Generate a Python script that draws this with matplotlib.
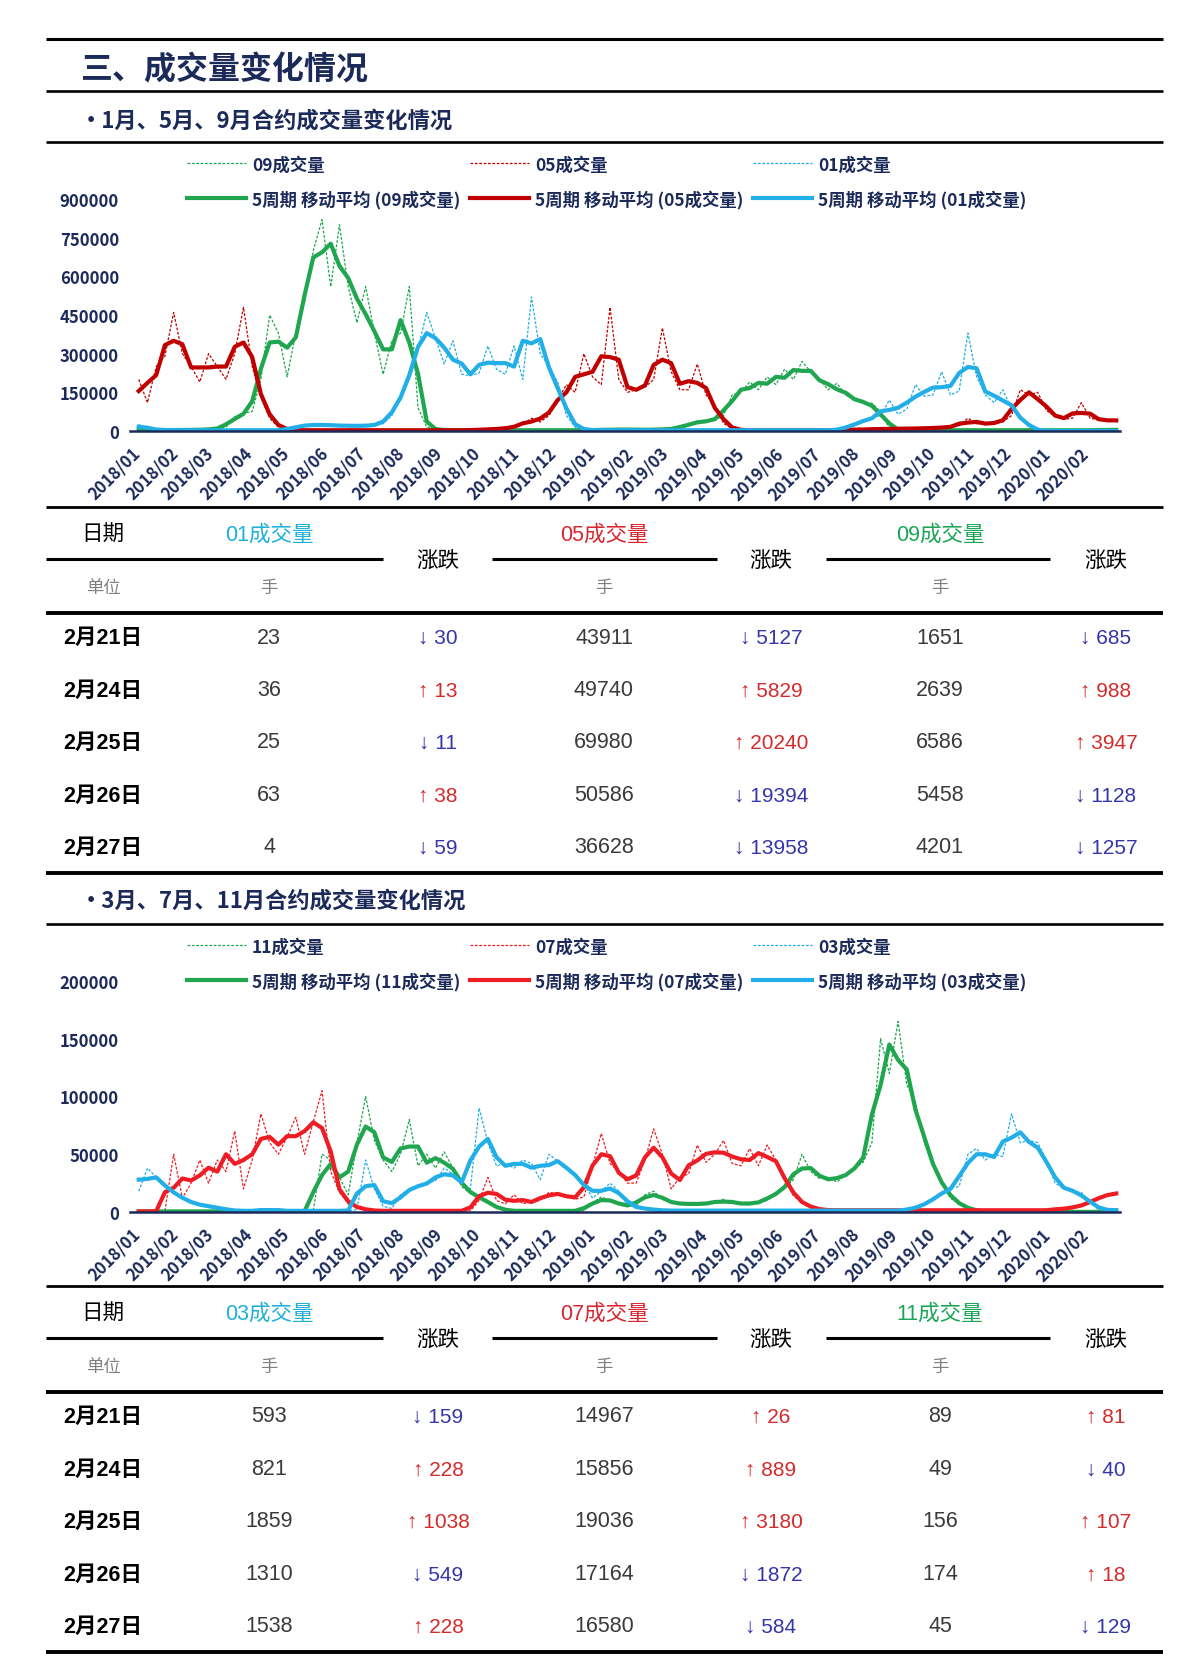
import numpy as np
import pandas as pd
import matplotlib
matplotlib.use("Agg")
import matplotlib.pyplot as plt
import matplotlib.dates as mdates
from matplotlib.lines import Line2D
from matplotlib.ticker import StrMethodFormatter

plt.rcParams['font.family'] = ['Noto Sans CJK SC', 'DejaVu Sans']
plt.rcParams['axes.unicode_minus'] = False

# weekly samples of daily volume, in thousand lots, from 2018/01/02
dates = pd.date_range("2018-01-02", periods=113, freq="7D")

vol09 = [3, 3, 3, 3, 4, 4, 4, 5, 6,
         8, 15, 55, 70, 75, 200, 450, 380, 210, 380, 500, 700, 820, 560, 800, 560,
         420, 560, 380, 220, 350, 380, 560, 90, 15, 5] + [3] * 17 + \
        [4, 4, 5, 6, 6, 5, 5, 5, 6,
         8, 10, 28, 35, 38, 40, 60, 140, 150, 190, 160, 210, 180, 240, 200, 270,
         230, 200, 160, 185, 140, 120, 110, 108, 75, 10] + [3] * 24 + [5, 4]

vol05 = [200, 110, 250, 290, 460, 300, 250, 190, 300, 250, 200, 300, 480, 250, 130, 50, 15, 5] + \
        [3] * 21 + \
        [5, 6, 8, 10, 14, 25, 50, 35, 60, 120, 180, 150, 300, 210, 180, 480, 200, 150, 160, 170,
         200, 400, 230, 160, 160, 260, 140, 100, 30, 8] + [3] * 12 + \
        [5, 5, 6, 7, 8, 8, 9, 9, 10, 10, 12, 13, 15, 20, 50, 28, 28, 30, 35, 60,
         160, 140, 150, 80, 55, 45, 50, 110, 50, 42, 45, 37]

vol01 = [25, 8, 5, 4] + [3] * 14 + \
        [18, 22, 23, 25, 22, 21, 20, 20, 20, 22, 28, 60, 130, 200, 320, 460, 360, 260, 350, 220,
         215, 225, 330, 240, 220, 330, 200, 520, 300, 250, 190, 60, 15, 5] + [3] * 29 + \
        [10, 28, 38, 50, 60, 120, 65, 85, 180, 135, 140, 230, 140, 155, 380, 210, 140, 110, 160, 85,
         55, 15] + [1, 0.5] + [0.1] * 8

vol11 = [0.5] * 20 + \
        [1, 50, 45, 30, 15, 60, 100, 62, 45, 35, 50, 80, 40, 50, 38, 52, 38, 22, 16, 14, 8, 4] + \
        [1] * 10 + \
        [8, 13, 10, 7, 5, 5, 15, 18, 11, 8, 7, 7, 7, 7, 8, 11, 8, 7, 7, 8,
         10, 17, 20, 28, 50, 35, 29, 30, 26, 32, 38, 43, 60, 150, 120, 165, 110, 95, 60, 40,
         25, 12, 7, 4] + [0.1] * 17

vol07 = [0.5, 0.5, 0.5, 1, 50, 12, 25, 45, 25, 45, 35, 70, 20, 45, 85, 60, 50, 65, 82, 50,
         78, 105, 35, 17, 7, 4, 2] + [1] * 12 + \
        [10, 30, 10, 7, 15, 7, 9, 10, 17, 16, 14, 11, 13, 40, 68, 42, 35, 25, 25, 45,
         72, 50, 20, 30, 33, 58, 43, 50, 62, 42, 40, 55, 40, 58, 45, 29, 14, 8, 4, 2] + \
        [1.5] * 27 + [4, 3, 5, 9, 12, 15, 17]

vol03 = [18, 38, 30, 22, 17, 12, 8, 6, 5, 4, 2] + \
        [1, 1, 1, 1, 3, 1, 1, 1, 1, 1, 1, 1, 1, 1] + \
        [2, 45, 20, 5, 3, 15, 20, 22, 25, 27, 38, 33, 24, 20, 90, 60, 40, 42, 38, 45,
         42, 28, 50, 44, 38, 33, 25, 12, 18, 25, 18, 6, 4, 3, 2] + [1.2] * 29 + \
        [4, 6, 10, 17, 21, 22, 50, 55, 45, 50, 48, 85, 60, 62, 60, 45, 25, 20, 18, 17,
         8, 2, 1.8, 1.5]

MA_WIN = 3

# tables
tbl_dates = ['2月21日', '2月24日', '2月25日', '2月26日', '2月27日']
t1_vol01 = [23, 36, 25, 63, 4]
t1_chg01 = [-30, 13, -11, 38, -59]
t1_vol05 = [43911, 49740, 69980, 50586, 36628]
t1_chg05 = [-5127, 5829, 20240, -19394, -13958]
t1_vol09 = [1651, 2639, 6586, 5458, 4201]
t1_chg09 = [-685, 988, 3947, -1128, -1257]

t2_vol03 = [593, 821, 1859, 1310, 1538]
t2_chg03 = [-159, 228, 1038, -549, 228]
t2_vol07 = [14967, 15856, 19036, 17164, 16580]
t2_chg07 = [26, 889, 3180, -1872, -584]
t2_vol11 = [89, 49, 156, 174, 45]
t2_chg11 = [81, -40, 107, 18, -129]

NAVY = '#1c2a5a'
GREEN = '#1fa64f'
DRED = '#c00000'
RED = '#ee1c24'
BLUE = '#22aee6'
TBL_FONT = ['Liberation Sans', 'Noto Sans CJK SC', 'DejaVu Sans']

W, H = 1200, 1681
fig = plt.figure(figsize=(12, 16.81), dpi=100)


def fx(px):
    return px / W


def fy(py):
    return 1 - py / H


def hline(y, x0=46, x1=1163, lw=1.9):
    fig.add_artist(Line2D([fx(x0), fx(x1)], [fy(y), fy(y)], color='black',
                          lw=lw, solid_capstyle='butt'))


def draw_chart(top, bottom, ymax, step, series):
    ax = fig.add_axes([fx(130), fy(bottom), 990 / W, (bottom - top) / H])
    raws, mas = [], []
    for name, vals, color in series:
        s = pd.Series(np.array(vals, dtype=float) * 1000, index=dates)
        ln, = ax.plot(s.index, s.values, color=color, lw=0.9, ls=(0, (2.2, 1.3)),
                      label=f'{name}成交量')
        raws.append(ln)
    for name, vals, color in series:
        s = pd.Series(np.array(vals, dtype=float) * 1000, index=dates)
        ma = s.rolling(MA_WIN, center=True, min_periods=1).mean()
        ln, = ax.plot(ma.index, ma.values, color=color, lw=3,
                      label=f'5周期 移动平均 ({name}成交量)')
        mas.append(ln)

    ax.set_ylim(0, ymax)
    ax.set_yticks(np.arange(0, ymax + 1, step))
    ax.yaxis.set_major_formatter(StrMethodFormatter('{x:.0f}'))
    ax.set_xlim(pd.Timestamp('2017-12-26'), pd.Timestamp('2020-02-28'))
    ax.set_xticks(pd.date_range('2018-01-01', '2020-02-01', freq='MS'))
    ax.xaxis.set_major_formatter(mdates.DateFormatter('%Y/%m'))
    for sp in ['top', 'left', 'right']:
        ax.spines[sp].set_visible(False)
    ax.spines['bottom'].set_color(NAVY)
    ax.spines['bottom'].set_linewidth(1.8)
    ax.tick_params(axis='both', length=0, colors=NAVY, labelsize=12)
    ax.tick_params(axis='y', pad=8)
    ax.tick_params(axis='x', pad=14)
    for lab in ax.get_yticklabels():
        lab.set_fontweight('bold')
    for lab in ax.get_xticklabels():
        lab.set_fontweight('bold')
        lab.set_rotation(45)
        lab.set_ha('right')
        lab.set_va('center')
        lab.set_rotation_mode('anchor')

    handles = [raws[0], mas[0], raws[1], mas[1], raws[2], mas[2]]
    ax.legend(handles=handles, ncol=3, loc='lower left',
              bbox_to_anchor=(fx(178), fy(top + 18)), bbox_transform=fig.transFigure,
              frameon=False, borderpad=0, handlelength=3.4, handletextpad=0.35,
              columnspacing=0.55, labelspacing=0.93, labelcolor=NAVY,
              prop={'weight': 'bold', 'size': 12.5})
    return ax


def draw_table(top, cols):
    row_off = [130, 183, 235, 288, 340]
    seg_x = [(46, 383), (492, 717), (826, 1050)]
    col_x = [269, 604, 940]
    chg_x = [438, 771, 1106]
    hline(top, lw=2)
    fig.text(fx(103), fy(top + 27), '日期', ha='center', va='center',
             fontsize=15.5, color='black', family=TBL_FONT)
    fig.text(fx(103), fy(top + 80), '单位', ha='center', va='center',
             fontsize=12.5, color='#808080', family=TBL_FONT)
    for i, (hdr, color, vols, chgs) in enumerate(cols):
        fig.text(fx(col_x[i]), fy(top + 27), hdr, ha='center', va='center',
                 fontsize=15.5, color=color, family=TBL_FONT)
        hline(top + 52, seg_x[i][0], seg_x[i][1], lw=2.2)
        fig.text(fx(chg_x[i]), fy(top + 54), '涨跌', ha='center', va='center',
                 fontsize=15.5, color='black', family=TBL_FONT)
        fig.text(fx(col_x[i]), fy(top + 80), '手', ha='center', va='center',
                 fontsize=12.5, color='#808080', family=TBL_FONT)
        for r in range(5):
            y = fy(top + row_off[r])
            fig.text(fx(col_x[i]), y, str(vols[r]), ha='center', va='center',
                     fontsize=15.5, color='#3a3a3a', family=TBL_FONT)
            up = chgs[r] > 0
            fig.text(fx(chg_x[i]), y, ('↑ ' if up else '↓ ') + str(abs(chgs[r])),
                     ha='center', va='center', fontsize=15,
                     color='#d42a2a' if up else '#3535a8', family=TBL_FONT)
    for r in range(5):
        fig.text(fx(63), fy(top + row_off[r]), tbl_dates[r], ha='left', va='center',
                 fontsize=15.5, fontweight='bold', color='black', family=TBL_FONT)
    hline(top + 106, lw=2.8)
    hline(top + 366, lw=2.8)


# header block
hline(40, lw=2.2)
fig.text(fx(81), fy(70), '三、成交量变化情况', fontsize=23, fontweight='bold',
         color=NAVY, va='center')
hline(92)
fig.text(fx(80), fy(121), '•1月、5月、9月合约成交量变化情况', fontsize=16,
         fontweight='bold', color=NAVY, va='center')
hline(143)

draw_chart(200, 432, 900000, 150000,
           [('09', vol09, GREEN), ('05', vol05, DRED), ('01', vol01, BLUE)])

draw_table(508, [('01成交量', '#1fb0d8', t1_vol01, t1_chg01),
                 ('05成交量', '#d9262e', t1_vol05, t1_chg05),
                 ('09成交量', '#19a556', t1_vol09, t1_chg09)])

fig.text(fx(80), fy(901), '•3月、7月、11月合约成交量变化情况', fontsize=16,
         fontweight='bold', color=NAVY, va='center')
hline(925)

draw_chart(982, 1213, 200000, 50000,
           [('11', vol11, GREEN), ('07', vol07, RED), ('03', vol03, BLUE)])

draw_table(1287, [('03成交量', '#1fb0d8', t2_vol03, t2_chg03),
                  ('07成交量', '#d9262e', t2_vol07, t2_chg07),
                  ('11成交量', '#19a556', t2_vol11, t2_chg11)])

fig.savefig('out.png', dpi=100, facecolor='white')
